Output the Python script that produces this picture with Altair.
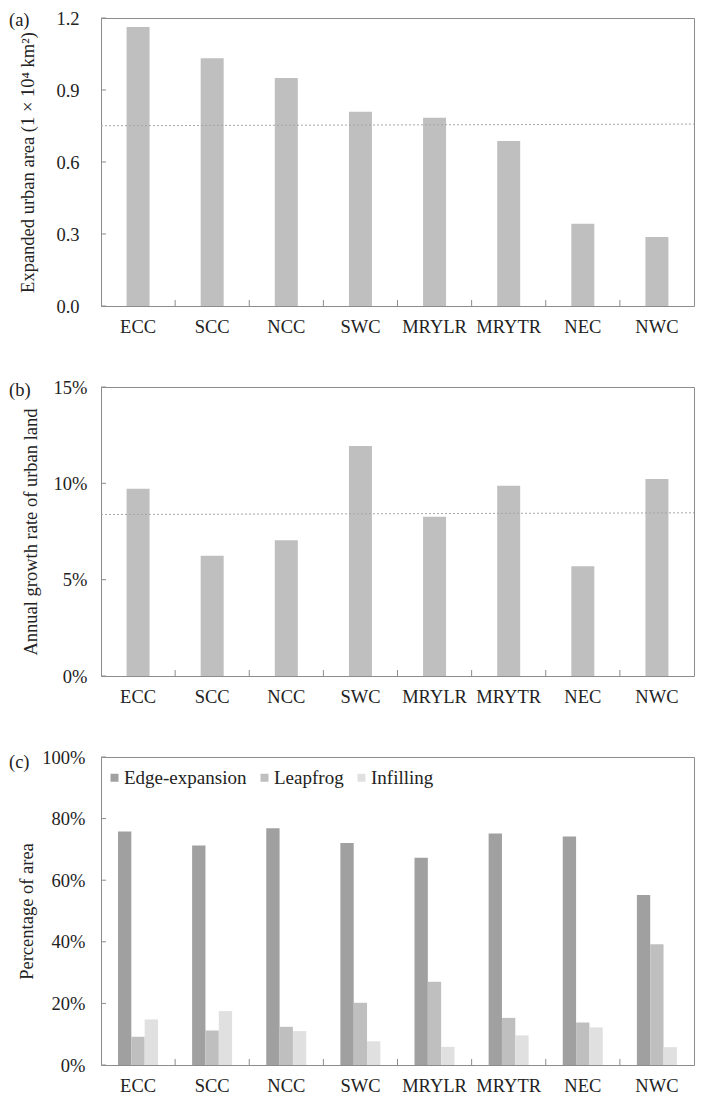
import altair as alt
import pandas as pd

regions = ["ECC", "SCC", "NCC", "SWC", "MRYLR", "MRYTR", "NEC", "NWC"]
area = [1.163, 1.032, 0.950, 0.809, 0.784, 0.687, 0.343, 0.288]
area_mean = [0.751, 0.758]
growth = [0.0972, 0.0624, 0.0704, 0.1194, 0.0826, 0.0988, 0.0570, 0.1022]
growth_mean = [0.0838, 0.0847]
types = ["Edge-expansion", "Leapfrog", "Infilling"]
edge = [75.8, 71.3, 76.9, 72.1, 67.3, 75.2, 74.2, 55.2]
leap = [9.2, 11.2, 12.4, 20.2, 27.0, 15.3, 13.8, 39.2]
infill = [14.8, 17.5, 11.0, 7.7, 5.9, 9.6, 12.2, 5.8]
ticks_a = [0, 0.3, 0.6, 0.9, 1.2]
ticks_b = [0, 0.05, 0.10, 0.15]
ticks_c = [0, 0.2, 0.4, 0.6, 0.8, 1.0]

FONT = "Liberation Serif"
FS = 18.5
W = 593
GRAY = "#8c8c8c"
TXT = "#222222"
HA, HB, HC = 288, 289, 308
SP = 81

xscale = alt.Scale(domain=regions, paddingInner=0, paddingOuter=0)


def xenc(field="region", band=None):
    kw = {}
    if band is not None:
        kw["bandPosition"] = band
    return alt.X(f"{field}:N", scale=xscale, sort=regions,
                 axis=alt.Axis(title=None, ticks=False, tickSize=0, domain=False,
                               labelAngle=0, labelPadding=11, labelBaseline="top",
                               labelFontSize=FS, labelFont=FONT, labelColor=TXT),
                 **kw)


def yenc(field, title, domain, values, fmt, lpad, tpad):
    return alt.Y(f"{field}:Q", scale=alt.Scale(domain=domain, nice=False, zero=True),
                 axis=alt.Axis(title=title, values=values, format=fmt, grid=False,
                               ticks=False, tickSize=0, domain=False,
                               labelPadding=lpad, labelFontSize=FS, labelFont=FONT,
                               labelColor=TXT, titleFont=FONT, titleFontSize=FS,
                               titleFontWeight="normal", titleColor=TXT,
                               titlePadding=tpad))


def frame_ticks(H, yvals, ydef):
    yt = alt.Chart(pd.DataFrame({"v": yvals})).mark_rule(color=GRAY, strokeWidth=1).encode(
        y=ydef("v"), x=alt.value(0), x2=alt.value(5))
    xt = alt.Chart(pd.DataFrame({"region": regions[1:]})).mark_rule(color=GRAY, strokeWidth=1).encode(
        x=xenc(band=0), y=alt.value(H), y2=alt.value(H - 6))
    return yt, xt


def panel_label(t, dy):
    return alt.Chart(pd.DataFrame({"t": [t]})).mark_text(
        font=FONT, fontSize=FS, color=TXT, align="left", baseline="middle").encode(
        text="t:N", x=alt.value(-92), y=alt.value(dy))


# ---------- (a) ----------
ya = lambda f: yenc(f, "Expanded urban area (1 × 10⁴ km²)", [0, 1.2], ticks_a, ".1f", 22, 18)
dfa = pd.DataFrame({"region": regions, "value": area})
bars_a = alt.Chart(dfa).mark_bar(color="#bfbfbf", size=23).encode(x=xenc(), y=ya("value"))
mean_a = alt.Chart(pd.DataFrame({"y0": [area_mean[0]], "y1": [area_mean[1]]})).mark_rule(
    color="#a6a6a6", strokeWidth=1, strokeDash=[2, 2]).encode(
    y=ya("y0"), y2="y1:Q", x=alt.value(0), x2=alt.value(W))
yt_a, xt_a = frame_ticks(HA, ticks_a, ya)
chart_a = alt.layer(bars_a, mean_a, yt_a, xt_a, panel_label("(a)", 2)).properties(width=W, height=HA)

# ---------- (b) ----------
yb = lambda f: yenc(f, "Annual growth rate of urban land", [0, 0.15], ticks_b, ".0%", 14, 13)
dfb = pd.DataFrame({"region": regions, "value": growth})
bars_b = alt.Chart(dfb).mark_bar(color="#bfbfbf", size=23).encode(x=xenc(), y=yb("value"))
mean_b = alt.Chart(pd.DataFrame({"y0": [growth_mean[0]], "y1": [growth_mean[1]]})).mark_rule(
    color="#a6a6a6", strokeWidth=1, strokeDash=[2, 2]).encode(
    y=yb("y0"), y2="y1:Q", x=alt.value(0), x2=alt.value(W))
yt_b, xt_b = frame_ticks(HB, ticks_b, yb)
chart_b = alt.layer(bars_b, mean_b, yt_b, xt_b, panel_label("(b)", 3)).properties(width=W, height=HB)

# ---------- (c) ----------
yc = lambda f: yenc(f, "Percentage of area", [0, 1.0], ticks_c, ".0%", 16, 5)
rows = []
for i, r in enumerate(regions):
    rows.append({"region": r, "type": types[0], "value": edge[i] / 100})
    rows.append({"region": r, "type": types[1], "value": leap[i] / 100})
    rows.append({"region": r, "type": types[2], "value": infill[i] / 100})
dfc = pd.DataFrame(rows)
legend_y = HA + SP + HB + SP + 11
bars_c = alt.Chart(dfc).mark_bar().encode(
    x=xenc(), y=yc("value"),
    xOffset=alt.XOffset("type:N", sort=types,
                        scale=alt.Scale(domain=types, range=[17, 57], paddingInner=0, paddingOuter=0)),
    color=alt.Color("type:N", sort=types,
                    scale=alt.Scale(domain=types, range=["#a0a0a0", "#bfbfbf", "#e0e0e0"]),
                    legend=alt.Legend(orient="none", legendX=4, legendY=legend_y,
                                      direction="horizontal", title=None,
                                      symbolType="square", symbolSize=64,
                                      symbolStrokeWidth=0, labelFontSize=19,
                                      labelFont=FONT, labelColor=TXT,
                                      labelOffset=0, columnPadding=8)))
yt_c, xt_c = frame_ticks(HC, ticks_c, yc)
chart_c = alt.layer(bars_c, yt_c, xt_c, panel_label("(c)", 5)).properties(width=W, height=HC)

chart = alt.vconcat(chart_a, chart_b, chart_c, spacing=SP, bounds="flush").configure(
    padding={"left": 0, "top": 0, "right": 0, "bottom": 0}
).configure_view(stroke=GRAY, strokeWidth=1)

chart.save("out.html", embed_options={"renderer": "svg", "actions": False})
